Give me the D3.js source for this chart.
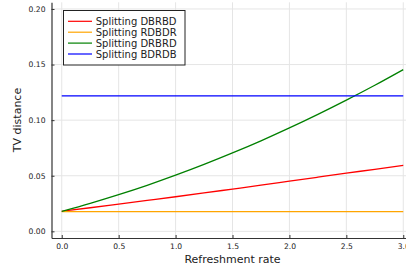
<!DOCTYPE html>
<html><head><meta charset="utf-8">
<script src="https://cdn.jsdelivr.net/npm/d3@7"></script>
<style>
html,body{margin:0;padding:0;background:#fff;}
svg{display:block;font-family:"DejaVu Sans",sans-serif;}
</style></head>
<body><svg id="c" width="406" height="273"></svg>
<script>
const rates = [0,0.25,0.5,0.75,1.0,1.25,1.5,1.75,2.0,2.25,2.5,2.75,3.0];
const dbrbd = [0.018,0.0212,0.0245,0.0278,0.0311,0.0345,0.0380,0.0415,0.0451,0.0487,0.0523,0.0558,0.0594];
const rdbdr = [0.0177,0.0177,0.0177,0.0177,0.0177,0.0177,0.0177,0.0177,0.0177,0.0177,0.0177,0.0177,0.0177];
const drbrd = [0.018,0.0252,0.0330,0.0414,0.0505,0.0602,0.0705,0.0814,0.0930,0.1052,0.1180,0.1314,0.1455];
const bdrdb = [0.1219,0.1219,0.1219,0.1219,0.1219,0.1219,0.1219,0.1219,0.1219,0.1219,0.1219,0.1219,0.1219];
const seriesNames = ["Splitting DBRBD","Splitting RDBDR","Splitting DRBRD","Splitting BDRDB"];
const seriesColors = ["#ff0000","#ffa500","#008000","#0000ff"];
const xTicks = [0,0.5,1.0,1.5,2.0,2.5,3.0];
const yTicks = [0,0.05,0.10,0.15,0.20];

const svg = d3.select("#c");
const x = d3.scaleLinear().domain([-0.09,3.09]).range([51.5,413.5]);
const y = d3.scaleLinear().domain([-0.006,0.206]).range([238,2.3]);

// grid
svg.append("g").selectAll("line").data(xTicks).join("line")
  .attr("x1",d=>x(d)).attr("x2",d=>x(d)).attr("y1",y.range()[0]).attr("y2",y.range()[1])
  .attr("stroke","#e5e5e5").attr("stroke-width",1);
svg.append("g").selectAll("line").data(yTicks).join("line")
  .attr("y1",d=>y(d)).attr("y2",d=>y(d)).attr("x1",x.range()[0]).attr("x2",x.range()[1])
  .attr("stroke","#e5e5e5").attr("stroke-width",1);

// axes
const xAxis = d3.axisBottom(x).tickValues(xTicks).tickFormat(d3.format(".1f")).tickSizeInner(-3).tickSizeOuter(0).tickPadding(6);
const gx = svg.append("g").attr("transform",`translate(0,${y.range()[0]})`).call(xAxis);
const yAxis = d3.axisLeft(y).tickValues(yTicks).tickFormat(d3.format(".2f")).tickSizeInner(-3).tickSizeOuter(0).tickPadding(6);
const gy = svg.append("g").attr("transform",`translate(${x.range()[0]},0)`).call(yAxis);
[gx,gy].forEach(g=>{
  g.select(".domain").attr("stroke","#333").attr("stroke-width",1.2);
  g.selectAll(".tick line").attr("stroke","#333").attr("stroke-width",1);
  g.selectAll("text").attr("font-family","DejaVu Sans").attr("font-size",7.6).attr("fill","#222");
});

// lines
const allSeries = [dbrbd,rdbdr,drbrd,bdrdb];
const line = d3.line().x((d,i)=>x(rates[i])).y(d=>y(d)).curve(d3.curveMonotoneX);
allSeries.forEach((s,k)=>{
  svg.append("path").datum(s).attr("d",line).attr("fill","none")
    .attr("stroke",seriesColors[k]).attr("stroke-width",1.3);
});

// axis labels
svg.append("text").attr("x",232.5).attr("y",263).attr("text-anchor","middle")
  .attr("font-size",11).attr("fill","#222").text("Refreshment rate");
svg.append("text").attr("transform","translate(20.5,120) rotate(-90)").attr("text-anchor","middle")
  .attr("font-size",11).attr("fill","#222").text("TV distance");

// legend
const lg = svg.append("g");
lg.append("rect").attr("x",63.5).attr("y",10.5).attr("width",121.5).attr("height",54.5)
  .attr("fill","#fff").attr("stroke","#222").attr("stroke-width",1);
seriesNames.forEach((n,k)=>{
  const yy = 21.3 + k*10.9;
  lg.append("line").attr("x1",68).attr("x2",92).attr("y1",yy).attr("y2",yy)
    .attr("stroke",seriesColors[k]).attr("stroke-width",1.2);
  lg.append("text").attr("x",95.7).attr("y",yy+3.6).attr("font-size",10).attr("fill","#222").text(n);
});
</script></body></html>
